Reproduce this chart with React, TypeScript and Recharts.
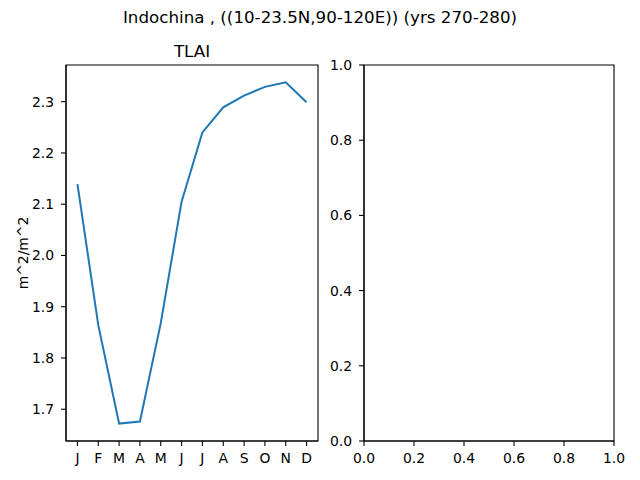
import React from 'react';
import { LineChart, Line, XAxis, YAxis, ReferenceArea } from 'recharts';

const months = ['J', 'F', 'M', 'A', 'M', 'J', 'J', 'A', 'S', 'O', 'N', 'D'];
const tlai = [2.139, 1.864, 1.672, 1.676, 1.868, 2.105, 2.240, 2.289, 2.312, 2.329, 2.338, 2.299];
const leftYTicks = [1.7, 1.8, 1.9, 2.0, 2.1, 2.2, 2.3];
const unitTicks = [0, 0.2, 0.4, 0.6, 0.8, 1.0];
const suptitle = 'Indochina , ((10-23.5N,90-120E)) (yrs 270-280)';
const panelTitle = 'TLAI';
const yLabel = 'm^2/m^2';

const data = months.map((m, i) => ({ idx: i, month: m, value: tlai[i] }));
const monthTicks = months.map((_, i) => i);
const emptyData = unitTicks.map((v) => ({ x: v, y: v }));

const LX: [number, number] = [-0.55, 11.55];
const LY: [number, number] = [1.638, 2.3716];

const FONT = 'DejaVu Sans, sans-serif';
const tickStyle = { fill: '#000', fontSize: 13.9, fontFamily: FONT };
const axisLine = { stroke: '#000', strokeWidth: 1.1 };
const tickLine = { stroke: '#000', strokeWidth: 1.1 };
const TS = 5;
const TM = 7;

export default function App() {
  return (
    <div style={{ position: 'absolute', left: 0, top: 0, width: 640, height: 480, background: '#fff', fontFamily: FONT }}>
      <div style={{ position: 'absolute', left: 0, top: 0 }}>
        <LineChart width={330} height={480} data={data} margin={{ top: 65, right: 12, bottom: 9, left: 16 }}>
          <XAxis
            dataKey="idx"
            type="number"
            domain={LX}
            ticks={monthTicks}
            tickFormatter={(v: number) => months[v]}
            interval={0}
            height={30}
            tickSize={TS}
            tickMargin={TM}
            tick={tickStyle}
            axisLine={axisLine}
            tickLine={tickLine}
            allowDataOverflow
          />
          <YAxis
            type="number"
            domain={LY}
            ticks={leftYTicks}
            tickFormatter={(v: number) => v.toFixed(1)}
            width={50}
            tickSize={TS}
            tickMargin={TM}
            tick={tickStyle}
            axisLine={axisLine}
            tickLine={tickLine}
            allowDataOverflow
          />
          <ReferenceArea x1={LX[0]} x2={LX[1]} y1={LY[0]} y2={LY[1]} fill="none" fillOpacity={0} stroke="#000" strokeWidth={1.1} ifOverflow="visible" />
          <Line dataKey="value" stroke="#1f77b4" strokeWidth={2} dot={false} isAnimationActive={false} />
        </LineChart>
      </div>
      <div style={{ position: 'absolute', left: 330, top: 0 }}>
        <LineChart width={310} height={480} data={emptyData} margin={{ top: 65, right: 26, bottom: 9, left: -16 }}>
          <XAxis
            dataKey="x"
            type="number"
            domain={[0, 1]}
            ticks={unitTicks}
            tickFormatter={(v: number) => v.toFixed(1)}
            interval={0}
            height={30}
            tickSize={TS}
            tickMargin={TM}
            tick={tickStyle}
            axisLine={axisLine}
            tickLine={tickLine}
          />
          <YAxis
            dataKey="y"
            type="number"
            domain={[0, 1]}
            ticks={unitTicks}
            tickFormatter={(v: number) => v.toFixed(1)}
            interval={0}
            width={50}
            tickSize={TS}
            tickMargin={TM}
            tick={tickStyle}
            axisLine={axisLine}
            tickLine={tickLine}
          />
          <ReferenceArea x1={0} x2={1} y1={0} y2={1} fill="none" fillOpacity={0} stroke="#000" strokeWidth={1.1} ifOverflow="visible" />
        </LineChart>
      </div>
      <svg width={640} height={480} style={{ position: 'absolute', left: 0, top: 0, pointerEvents: 'none' }}>
        <text x={320} y={22.5} textAnchor="middle" fontSize={16.7} fontFamily={FONT} fill="#000">{suptitle}</text>
        <text x={192} y={57.3} textAnchor="middle" fontSize={16.7} fontFamily={FONT} fill="#000">{panelTitle}</text>
        <text x={28} y={253} textAnchor="middle" fontSize={13.9} fontFamily={FONT} fill="#000" transform="rotate(-90 28 253)">{yLabel}</text>
      </svg>
    </div>
  );
}
